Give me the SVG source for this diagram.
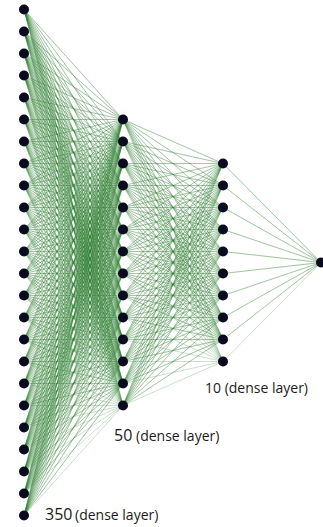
<svg xmlns="http://www.w3.org/2000/svg" width="323" height="527" viewBox="0 0 323 527">
<style>
.e{fill:none;stroke:#2f7f35;stroke-opacity:.36;stroke-width:.7;stroke-linejoin:round}
.n{fill:#0b0b20}
.t{font-family:"Open Sans","Noto Sans","Liberation Sans",sans-serif;fill:#1a1a1a;font-size:14px}
</style>
<rect width="323" height="527" fill="#fff"/>
<g transform="translate(0,0.5)">
<g id="connectors">
<path class="e" d="M24 9L123 119 24 9 123 141 24 9 123 163 24 9 123 185 24 9 123 207 24 9 123 229 24 9 123 251 24 9 123 273 24 9 123 295 24 9 123 317 24 9 123 339 24 9 123 361 24 9 123 383 24 9 123 405"/>
<path class="e" d="M24 31L123 119 24 31 123 141 24 31 123 163 24 31 123 185 24 31 123 207 24 31 123 229 24 31 123 251 24 31 123 273 24 31 123 295 24 31 123 317 24 31 123 339 24 31 123 361 24 31 123 383 24 31 123 405"/>
<path class="e" d="M24 53L123 119 24 53 123 141 24 53 123 163 24 53 123 185 24 53 123 207 24 53 123 229 24 53 123 251 24 53 123 273 24 53 123 295 24 53 123 317 24 53 123 339 24 53 123 361 24 53 123 383 24 53 123 405"/>
<path class="e" d="M24 75L123 119 24 75 123 141 24 75 123 163 24 75 123 185 24 75 123 207 24 75 123 229 24 75 123 251 24 75 123 273 24 75 123 295 24 75 123 317 24 75 123 339 24 75 123 361 24 75 123 383 24 75 123 405"/>
<path class="e" d="M24 97L123 119 24 97 123 141 24 97 123 163 24 97 123 185 24 97 123 207 24 97 123 229 24 97 123 251 24 97 123 273 24 97 123 295 24 97 123 317 24 97 123 339 24 97 123 361 24 97 123 383 24 97 123 405"/>
<path class="e" d="M24 119L123 119 24 119 123 141 24 119 123 163 24 119 123 185 24 119 123 207 24 119 123 229 24 119 123 251 24 119 123 273 24 119 123 295 24 119 123 317 24 119 123 339 24 119 123 361 24 119 123 383 24 119 123 405"/>
<path class="e" d="M24 141L123 119 24 141 123 141 24 141 123 163 24 141 123 185 24 141 123 207 24 141 123 229 24 141 123 251 24 141 123 273 24 141 123 295 24 141 123 317 24 141 123 339 24 141 123 361 24 141 123 383 24 141 123 405"/>
<path class="e" d="M24 163L123 119 24 163 123 141 24 163 123 163 24 163 123 185 24 163 123 207 24 163 123 229 24 163 123 251 24 163 123 273 24 163 123 295 24 163 123 317 24 163 123 339 24 163 123 361 24 163 123 383 24 163 123 405"/>
<path class="e" d="M24 185L123 119 24 185 123 141 24 185 123 163 24 185 123 185 24 185 123 207 24 185 123 229 24 185 123 251 24 185 123 273 24 185 123 295 24 185 123 317 24 185 123 339 24 185 123 361 24 185 123 383 24 185 123 405"/>
<path class="e" d="M24 207L123 119 24 207 123 141 24 207 123 163 24 207 123 185 24 207 123 207 24 207 123 229 24 207 123 251 24 207 123 273 24 207 123 295 24 207 123 317 24 207 123 339 24 207 123 361 24 207 123 383 24 207 123 405"/>
<path class="e" d="M24 229L123 119 24 229 123 141 24 229 123 163 24 229 123 185 24 229 123 207 24 229 123 229 24 229 123 251 24 229 123 273 24 229 123 295 24 229 123 317 24 229 123 339 24 229 123 361 24 229 123 383 24 229 123 405"/>
<path class="e" d="M24 251L123 119 24 251 123 141 24 251 123 163 24 251 123 185 24 251 123 207 24 251 123 229 24 251 123 251 24 251 123 273 24 251 123 295 24 251 123 317 24 251 123 339 24 251 123 361 24 251 123 383 24 251 123 405"/>
<path class="e" d="M24 273L123 119 24 273 123 141 24 273 123 163 24 273 123 185 24 273 123 207 24 273 123 229 24 273 123 251 24 273 123 273 24 273 123 295 24 273 123 317 24 273 123 339 24 273 123 361 24 273 123 383 24 273 123 405"/>
<path class="e" d="M24 295L123 119 24 295 123 141 24 295 123 163 24 295 123 185 24 295 123 207 24 295 123 229 24 295 123 251 24 295 123 273 24 295 123 295 24 295 123 317 24 295 123 339 24 295 123 361 24 295 123 383 24 295 123 405"/>
<path class="e" d="M24 317L123 119 24 317 123 141 24 317 123 163 24 317 123 185 24 317 123 207 24 317 123 229 24 317 123 251 24 317 123 273 24 317 123 295 24 317 123 317 24 317 123 339 24 317 123 361 24 317 123 383 24 317 123 405"/>
<path class="e" d="M24 339L123 119 24 339 123 141 24 339 123 163 24 339 123 185 24 339 123 207 24 339 123 229 24 339 123 251 24 339 123 273 24 339 123 295 24 339 123 317 24 339 123 339 24 339 123 361 24 339 123 383 24 339 123 405"/>
<path class="e" d="M24 361L123 119 24 361 123 141 24 361 123 163 24 361 123 185 24 361 123 207 24 361 123 229 24 361 123 251 24 361 123 273 24 361 123 295 24 361 123 317 24 361 123 339 24 361 123 361 24 361 123 383 24 361 123 405"/>
<path class="e" d="M24 383L123 119 24 383 123 141 24 383 123 163 24 383 123 185 24 383 123 207 24 383 123 229 24 383 123 251 24 383 123 273 24 383 123 295 24 383 123 317 24 383 123 339 24 383 123 361 24 383 123 383 24 383 123 405"/>
<path class="e" d="M24 405L123 119 24 405 123 141 24 405 123 163 24 405 123 185 24 405 123 207 24 405 123 229 24 405 123 251 24 405 123 273 24 405 123 295 24 405 123 317 24 405 123 339 24 405 123 361 24 405 123 383 24 405 123 405"/>
<path class="e" d="M24 427L123 119 24 427 123 141 24 427 123 163 24 427 123 185 24 427 123 207 24 427 123 229 24 427 123 251 24 427 123 273 24 427 123 295 24 427 123 317 24 427 123 339 24 427 123 361 24 427 123 383 24 427 123 405"/>
<path class="e" d="M24 449L123 119 24 449 123 141 24 449 123 163 24 449 123 185 24 449 123 207 24 449 123 229 24 449 123 251 24 449 123 273 24 449 123 295 24 449 123 317 24 449 123 339 24 449 123 361 24 449 123 383 24 449 123 405"/>
<path class="e" d="M24 471L123 119 24 471 123 141 24 471 123 163 24 471 123 185 24 471 123 207 24 471 123 229 24 471 123 251 24 471 123 273 24 471 123 295 24 471 123 317 24 471 123 339 24 471 123 361 24 471 123 383 24 471 123 405"/>
<path class="e" d="M24 493L123 119 24 493 123 141 24 493 123 163 24 493 123 185 24 493 123 207 24 493 123 229 24 493 123 251 24 493 123 273 24 493 123 295 24 493 123 317 24 493 123 339 24 493 123 361 24 493 123 383 24 493 123 405"/>
<path class="e" d="M24 515L123 119 24 515 123 141 24 515 123 163 24 515 123 185 24 515 123 207 24 515 123 229 24 515 123 251 24 515 123 273 24 515 123 295 24 515 123 317 24 515 123 339 24 515 123 361 24 515 123 383 24 515 123 405"/>
<path class="e" d="M123 119L223 163 123 119 223 185 123 119 223 207 123 119 223 229 123 119 223 251 123 119 223 273 123 119 223 295 123 119 223 317 123 119 223 339 123 119 223 361"/>
<path class="e" d="M123 141L223 163 123 141 223 185 123 141 223 207 123 141 223 229 123 141 223 251 123 141 223 273 123 141 223 295 123 141 223 317 123 141 223 339 123 141 223 361"/>
<path class="e" d="M123 163L223 163 123 163 223 185 123 163 223 207 123 163 223 229 123 163 223 251 123 163 223 273 123 163 223 295 123 163 223 317 123 163 223 339 123 163 223 361"/>
<path class="e" d="M123 185L223 163 123 185 223 185 123 185 223 207 123 185 223 229 123 185 223 251 123 185 223 273 123 185 223 295 123 185 223 317 123 185 223 339 123 185 223 361"/>
<path class="e" d="M123 207L223 163 123 207 223 185 123 207 223 207 123 207 223 229 123 207 223 251 123 207 223 273 123 207 223 295 123 207 223 317 123 207 223 339 123 207 223 361"/>
<path class="e" d="M123 229L223 163 123 229 223 185 123 229 223 207 123 229 223 229 123 229 223 251 123 229 223 273 123 229 223 295 123 229 223 317 123 229 223 339 123 229 223 361"/>
<path class="e" d="M123 251L223 163 123 251 223 185 123 251 223 207 123 251 223 229 123 251 223 251 123 251 223 273 123 251 223 295 123 251 223 317 123 251 223 339 123 251 223 361"/>
<path class="e" d="M123 273L223 163 123 273 223 185 123 273 223 207 123 273 223 229 123 273 223 251 123 273 223 273 123 273 223 295 123 273 223 317 123 273 223 339 123 273 223 361"/>
<path class="e" d="M123 295L223 163 123 295 223 185 123 295 223 207 123 295 223 229 123 295 223 251 123 295 223 273 123 295 223 295 123 295 223 317 123 295 223 339 123 295 223 361"/>
<path class="e" d="M123 317L223 163 123 317 223 185 123 317 223 207 123 317 223 229 123 317 223 251 123 317 223 273 123 317 223 295 123 317 223 317 123 317 223 339 123 317 223 361"/>
<path class="e" d="M123 339L223 163 123 339 223 185 123 339 223 207 123 339 223 229 123 339 223 251 123 339 223 273 123 339 223 295 123 339 223 317 123 339 223 339 123 339 223 361"/>
<path class="e" d="M123 361L223 163 123 361 223 185 123 361 223 207 123 361 223 229 123 361 223 251 123 361 223 273 123 361 223 295 123 361 223 317 123 361 223 339 123 361 223 361"/>
<path class="e" d="M123 383L223 163 123 383 223 185 123 383 223 207 123 383 223 229 123 383 223 251 123 383 223 273 123 383 223 295 123 383 223 317 123 383 223 339 123 383 223 361"/>
<path class="e" d="M123 405L223 163 123 405 223 185 123 405 223 207 123 405 223 229 123 405 223 251 123 405 223 273 123 405 223 295 123 405 223 317 123 405 223 339 123 405 223 361"/>
<path class="e" d="M321 262L223 163 321 262 223 185 321 262 223 207 321 262 223 229 321 262 223 251 321 262 223 273 321 262 223 295 321 262 223 317 321 262 223 339 321 262 223 361"/>
</g>
<g id="layer-350">
<g id="a0"><circle class="n" cx="24" cy="9" r="5"/></g>
<g id="a1"><circle class="n" cx="24" cy="31" r="5"/></g>
<g id="a2"><circle class="n" cx="24" cy="53" r="5"/></g>
<g id="a3"><circle class="n" cx="24" cy="75" r="5"/></g>
<g id="a4"><circle class="n" cx="24" cy="97" r="5"/></g>
<g id="a5"><circle class="n" cx="24" cy="119" r="5"/></g>
<g id="a6"><circle class="n" cx="24" cy="141" r="5"/></g>
<g id="a7"><circle class="n" cx="24" cy="163" r="5"/></g>
<g id="a8"><circle class="n" cx="24" cy="185" r="5"/></g>
<g id="a9"><circle class="n" cx="24" cy="207" r="5"/></g>
<g id="a10"><circle class="n" cx="24" cy="229" r="5"/></g>
<g id="a11"><circle class="n" cx="24" cy="251" r="5"/></g>
<g id="a12"><circle class="n" cx="24" cy="273" r="5"/></g>
<g id="a13"><circle class="n" cx="24" cy="295" r="5"/></g>
<g id="a14"><circle class="n" cx="24" cy="317" r="5"/></g>
<g id="a15"><circle class="n" cx="24" cy="339" r="5"/></g>
<g id="a16"><circle class="n" cx="24" cy="361" r="5"/></g>
<g id="a17"><circle class="n" cx="24" cy="383" r="5"/></g>
<g id="a18"><circle class="n" cx="24" cy="405" r="5"/></g>
<g id="a19"><circle class="n" cx="24" cy="427" r="5"/></g>
<g id="a20"><circle class="n" cx="24" cy="449" r="5"/></g>
<g id="a21"><circle class="n" cx="24" cy="471" r="5"/></g>
<g id="a22"><circle class="n" cx="24" cy="493" r="5"/></g>
<g id="a23"><circle class="n" cx="24" cy="515" r="5"/></g>
</g>
<g id="layer-50">
<g id="b0"><circle class="n" cx="123" cy="119" r="5"/></g>
<g id="b1"><circle class="n" cx="123" cy="141" r="5"/></g>
<g id="b2"><circle class="n" cx="123" cy="163" r="5"/></g>
<g id="b3"><circle class="n" cx="123" cy="185" r="5"/></g>
<g id="b4"><circle class="n" cx="123" cy="207" r="5"/></g>
<g id="b5"><circle class="n" cx="123" cy="229" r="5"/></g>
<g id="b6"><circle class="n" cx="123" cy="251" r="5"/></g>
<g id="b7"><circle class="n" cx="123" cy="273" r="5"/></g>
<g id="b8"><circle class="n" cx="123" cy="295" r="5"/></g>
<g id="b9"><circle class="n" cx="123" cy="317" r="5"/></g>
<g id="b10"><circle class="n" cx="123" cy="339" r="5"/></g>
<g id="b11"><circle class="n" cx="123" cy="361" r="5"/></g>
<g id="b12"><circle class="n" cx="123" cy="383" r="5"/></g>
<g id="b13"><circle class="n" cx="123" cy="405" r="5"/></g>
</g>
<g id="layer-10">
<g id="c0"><circle class="n" cx="223" cy="163" r="5"/></g>
<g id="c1"><circle class="n" cx="223" cy="185" r="5"/></g>
<g id="c2"><circle class="n" cx="223" cy="207" r="5"/></g>
<g id="c3"><circle class="n" cx="223" cy="229" r="5"/></g>
<g id="c4"><circle class="n" cx="223" cy="251" r="5"/></g>
<g id="c5"><circle class="n" cx="223" cy="273" r="5"/></g>
<g id="c6"><circle class="n" cx="223" cy="295" r="5"/></g>
<g id="c7"><circle class="n" cx="223" cy="317" r="5"/></g>
<g id="c8"><circle class="n" cx="223" cy="339" r="5"/></g>
<g id="c9"><circle class="n" cx="223" cy="361" r="5"/></g>
</g>
<g id="output">
<g id="d0"><circle class="n" cx="321" cy="262" r="5"/></g>
</g>
</g>
<g id="labels">
<text class="t" x="45" y="520"><tspan font-size="16">350</tspan><tspan x="75">(dense layer)</tspan></text>
<text class="t" x="114" y="441"><tspan font-size="16">50</tspan><tspan x="136">(dense layer)</tspan></text>
<text class="t" x="205" y="393">10 (dense layer)</text>
</g>
</svg>
